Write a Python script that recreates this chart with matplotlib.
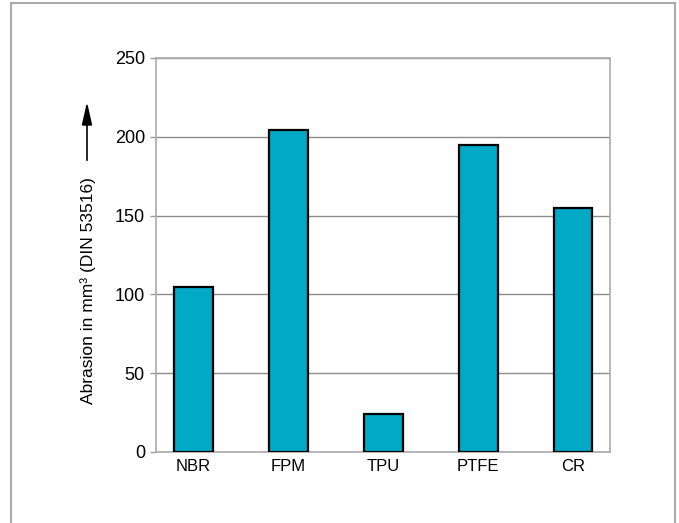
import matplotlib
matplotlib.use("Agg")
import matplotlib.pyplot as plt
from matplotlib.lines import Line2D

# data
materials = ['NBR', 'FPM', 'TPU', 'PTFE', 'CR']
abrasion = [105, 204, 24, 195, 155]
y_ticks = [0, 50, 100, 150, 200, 250]

plt.rcParams['font.family'] = ['Liberation Sans', 'DejaVu Sans']

W, H = 679, 523
fig = plt.figure(figsize=(W / 100, H / 100), dpi=100)

# axes box in pixels: x 156..610, y 58..452
ax = fig.add_axes([156 / W, 1 - 452 / H, (610 - 156) / W, (452 - 58) / H])

x = range(len(materials))
ax.bar(x, abrasion, width=0.41, color='#00a9c6', edgecolor='black', linewidth=1.6, zorder=3)

ax.set_xlim(-0.395, 4.39)
ax.set_ylim(0, 250)
ax.set_yticks(y_ticks)
ax.set_xticks(list(x))
ax.set_xticklabels(materials, fontsize=12)
ax.tick_params(axis='y', labelsize=13, length=4, width=1, color='#999999', pad=4)
ax.tick_params(axis='x', length=0, pad=5)

ax.grid(axis='y', color='#8c8c8c', linewidth=1, zorder=0)
for s in ax.spines.values():
    s.set_color('#aaaaaa')
    s.set_linewidth(1.2)

# y label with arrow
fig.text(88 / W, 1 - 291 / H, 'Abrasion in mm³ (DIN 53516)', rotation=90,
         ha='center', va='center', fontsize=12.5)
fig.add_artist(Line2D([87 / W, 87 / W], [1 - 160 / H, 1 - 118 / H], color='black', lw=1.2))
fig.patches.append(matplotlib.patches.FancyArrow(87 / W, 1 - 125 / H, 0, 20 / H, width=0,
                   head_width=9 / W, head_length=20 / H, length_includes_head=True,
                   color='black', transform=fig.transFigure, figure=fig))

# outer frame (open at the bottom)
frame_c = '#aaaaaa'
fig.add_artist(Line2D([11 / W, 11 / W], [0, 1 - 3 / H], color=frame_c, lw=1.5))
fig.add_artist(Line2D([675 / W, 675 / W], [0, 1 - 3 / H], color=frame_c, lw=1.5))
fig.add_artist(Line2D([11 / W, 675 / W], [1 - 3 / H, 1 - 3 / H], color=frame_c, lw=1.5))

fig.savefig('out.png', dpi=100)
